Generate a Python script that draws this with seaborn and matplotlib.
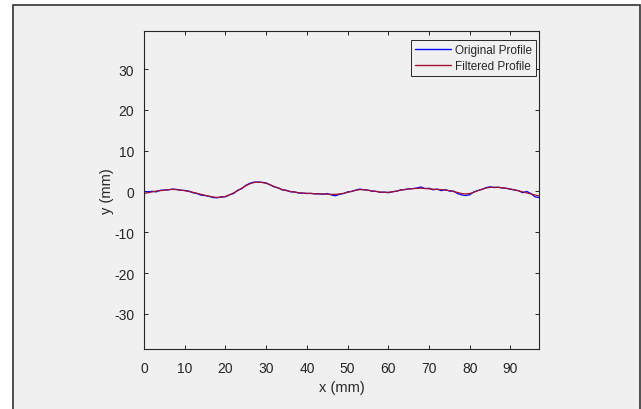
import numpy as np
import pandas as pd
import matplotlib
matplotlib.use("Agg")
import matplotlib.pyplot as plt
from matplotlib.patches import Rectangle
from matplotlib.lines import Line2D
import seaborn as sns

x_mm = list(range(0, 98))
original = [0.0, -0.1, 0.05, -0.1, 0.3, 0.35, 0.4, 0.6, 0.5, 0.3,
            0.25, 0.1, -0.3, -0.5, -0.9, -1.0, -1.2, -1.5, -1.55, -1.3,
            -1.3, -0.8, -0.5, 0.3, 0.7, 1.5, 2.0, 2.3, 2.3, 2.25,
            2.1, 1.6, 1.1, 0.9, 0.35, 0.3, -0.1, -0.1, -0.4, -0.4,
            -0.5, -0.45, -0.6, -0.55, -0.7, -0.5, -0.85, -1.05, -0.7, -0.5,
            -0.1, 0.0, 0.35, 0.6, 0.4, 0.35, 0.05, 0.05, -0.2, -0.15,
            -0.3, -0.05, 0.05, 0.4, 0.45, 0.65, 0.7, 0.85, 1.1, 0.7,
            0.8, 0.4, 0.6, 0.2, 0.45, 0.1, 0.1, -0.5, -0.85, -1.0,
            -0.8, -0.1, 0.25, 0.5, 0.95, 1.15, 0.95, 1.05, 0.85, 0.8,
            0.55, 0.35, 0.2, -0.3, 0.0, -0.5, -1.3, -1.5]
filtered = [-0.5, -0.3, -0.1, 0.1, 0.2, 0.3, 0.45, 0.5, 0.45, 0.35,
            0.2, 0.0, -0.2, -0.45, -0.7, -0.95, -1.15, -1.35, -1.45, -1.4,
            -1.2, -0.85, -0.35, 0.2, 0.8, 1.4, 1.9, 2.2, 2.3, 2.2,
            2.0, 1.65, 1.2, 0.8, 0.45, 0.2, 0.0, -0.15, -0.3, -0.4,
            -0.45, -0.5, -0.55, -0.6, -0.6, -0.65, -0.7, -0.7, -0.6, -0.45,
            -0.2, 0.05, 0.3, 0.45, 0.45, 0.3, 0.15, 0.0, -0.15, -0.2,
            -0.2, -0.1, 0.1, 0.3, 0.5, 0.6, 0.7, 0.75, 0.8, 0.75,
            0.65, 0.55, 0.5, 0.45, 0.35, 0.2, 0.0, -0.25, -0.5, -0.6,
            -0.5, -0.2, 0.2, 0.55, 0.85, 1.0, 1.05, 1.0, 0.9, 0.75,
            0.6, 0.4, 0.15, -0.1, -0.35, -0.6, -0.85, -1.1]
series_labels = ["Original Profile", "Filtered Profile"]
x_ticks = [0, 10, 20, 30, 40, 50, 60, 70, 80, 90]
y_ticks = [-30, -20, -10, 0, 10, 20, 30]

sns.set_style("ticks")
plt.rcParams["font.family"] = ["Liberation Sans", "DejaVu Sans"]
plt.rcParams["axes.unicode_minus"] = False

W, H = 641, 410
fig = plt.figure(figsize=(W / 100, H / 100), dpi=100, facecolor="white")
bg = "#f0f0f0"
fig.patches.append(Rectangle((13 / W, -0.3), (639.5 - 13) / W, 1.3 - 6 / H,
                             transform=fig.transFigure, facecolor=bg,
                             edgecolor="#333333", linewidth=1.2, zorder=-10))

ax = fig.add_axes([144 / W, 1 - 350 / H, (539 - 144) / W, (350 - 31.7) / H])
ax.set_facecolor(bg)

c_orig = "#0000ff"
c_filt = "#a2142f"
df = pd.DataFrame({"x": x_mm, "orig": original, "filt": filtered})
sns.lineplot(data=df, x="x", y="orig", ax=ax, color=c_orig, linewidth=0.9,
             sort=False, legend=False)
sns.lineplot(data=df, x="x", y="filt", ax=ax, color=c_filt, linewidth=0.9,
             sort=False, legend=False)

ax.set_xlim(0, 97)
ax.set_ylim(-38.6, 39.4)
ax.set_xticks(x_ticks)
ax.set_yticks(y_ticks)
ax.tick_params(axis="both", direction="in", length=3, width=0.7, top=True, right=True,
               labelsize=10, colors="#262626")
ax.tick_params(axis="x", pad=9)
ax.tick_params(axis="y", pad=7)
for s in ax.spines.values():
    s.set_visible(True)
    s.set_color("#262626")
    s.set_linewidth(0.8)
ax.set_xlabel("x (mm)", fontsize=10.5, color="#262626", labelpad=3)
ax.set_ylabel("y (mm)", fontsize=10.5, color="#262626", labelpad=0)

handles = [Line2D([0, 1], [0, 0], color=c_orig, linewidth=1.0),
           Line2D([0, 1], [0, 0], color=c_filt, linewidth=1.0)]
leg = ax.legend(handles=handles, labels=series_labels, loc="upper right", fontsize=8.5,
                frameon=True, fancybox=False, borderaxespad=0,
                bbox_to_anchor=(536 / W, 1 - 41 / H), bbox_transform=fig.transFigure,
                handlelength=3.0, handletextpad=0.35, labelspacing=0.35, borderpad=0.35)
leg.get_frame().set_edgecolor("#262626")
leg.get_frame().set_facecolor(bg)
leg.get_frame().set_alpha(1)
leg.get_frame().set_linewidth(0.7)

fig.savefig("out.png", dpi=100, facecolor="white")
